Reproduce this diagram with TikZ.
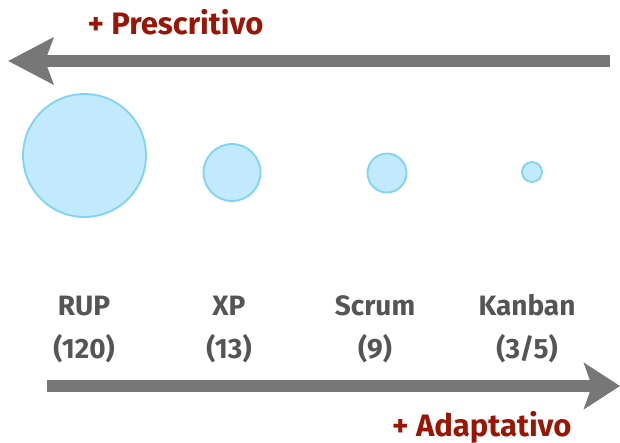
\documentclass[tikz,border=0pt]{standalone}
\usepackage{fontspec}
\setmainfont{Fira Sans}
\usetikzlibrary{arrows.meta,positioning}
\definecolor{arrowgray}{HTML}{777777}
\definecolor{labelgray}{HTML}{555555}
\definecolor{darkred}{HTML}{991505}
\definecolor{bubblefill}{HTML}{C2E9FC}
\definecolor{bubbleline}{HTML}{7DD3F8}
\tikzset{
  bubble/.style={circle, draw=bubbleline, fill=bubblefill, line width=1.8pt, inner sep=0pt},
  method/.style={text=labelgray, font=\bfseries\fontsize{28}{28}\selectfont, anchor=base},
  trend/.style={text=darkred, font=\bfseries\fontsize{31}{31}\selectfont, anchor=base},
  bigarrow/.style={draw=arrowgray, line width=12pt}}

\begin{document}
\begin{tikzpicture}[x=1pt, y=-1pt]
      \useasboundingbox (0,0) rectangle (620,443);
      % methods, biggest to smallest
      \node[bubble, minimum size=123pt] (rup)    at (84.5,155.5) {};
      \node[bubble, minimum size=57pt]  (xp)     at (232,172.5)  {};
      \node[bubble, minimum size=39pt]  (scrum)  at (387,173)    {};
      \node[bubble, minimum size=20pt]  (kanban) at (532,172)    {};
      \node[method] (rup_name)    at (84,315)  {RUP};
      \node[method] (rup_n)       at (84,358)  {(120)};
      \node[method] (xp_name)     at (229,315) {XP};
      \node[method] (xp_n)        at (229,358) {(13)};
      \node[method] (scrum_name)  at (375,315) {Scrum};
      \node[method] (scrum_n)     at (375,358) {(9)};
      \node[method] (kanban_name) at (527,315) {Kanban};
      \node[method] (kanban_n)    at (527,358) {(3/5)};
      % axis arrows
      \coordinate (pre_start) at (610,61);
      \coordinate (pre_end)   at (8,61);
      \coordinate (ada_start) at (47,386);
      \coordinate (ada_end)   at (620,386);
      \draw[bigarrow, -{Stealth[length=45pt, width=46pt, inset=8pt]}] (pre_start) -- (pre_end);
      \draw[bigarrow, -{Stealth[length=36pt, width=46pt, inset=8pt]}] (ada_start) -- (ada_end);
      \node[trend, anchor=base west] (prescritivo) at (84,35)  {+ Prescritivo};
      \node[trend, anchor=base east] (adaptativo)  at (575,436) {+ Adaptativo};
    \end{tikzpicture}
\end{document}
